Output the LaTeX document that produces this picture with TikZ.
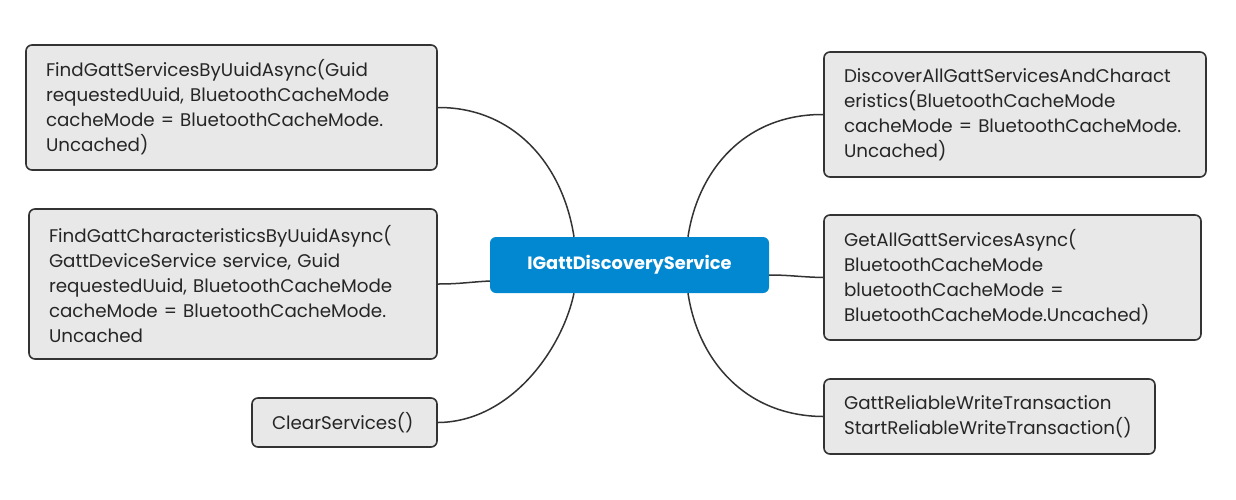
\documentclass[tikz,border=0pt]{standalone}
\usepackage{fontspec}
\setmainfont{Poppins}
\definecolor{boxfill}{RGB}{232,232,232}
\definecolor{boxline}{RGB}{51,51,51}
\definecolor{centerblue}{RGB}{2,136,209}
\definecolor{textdark}{RGB}{38,38,38}
\tikzset{
  leaf/.style={draw=boxline, fill=boxfill, line width=1.6pt, rounded corners=6pt,
    inner xsep=20pt, inner ysep=0pt, align=left, text=textdark,
    font={\fontsize{18.3}{25}\selectfont}},
  root/.style={fill=centerblue, rounded corners=6pt, text=white,
    font={\bfseries\fontsize{17.8}{20}\selectfont}, inner sep=0pt},
  link/.style={draw=boxline, line width=1.5pt}
}
\begin{document}
\begin{tikzpicture}[x=1pt,y=-1pt]
\useasboundingbox (0,0) rectangle (1236,499);
\fill[white] (0,0) rectangle (1236,499);

\node[root, minimum width=279pt, minimum height=56pt] (c) at (629.5,265) {IGattDiscoveryService};

\node[leaf, text width=371pt, minimum height=125pt] (l1) at (231.5,107.5)
  {\mbox{FindGattServicesByUuidAsync(Guid}\\\mbox{requestedUuid, BluetoothCacheMode}\\\mbox{cacheMode = BluetoothCacheMode.}\\Uncached)};
\node[leaf, text width=368pt, minimum height=150pt] (l2) at (233,284)
  {\mbox{FindGattCharacteristicsByUuidAsync(}\\\mbox{GattDeviceService service, Guid}\\\mbox{requestedUuid, BluetoothCacheMode}\\\mbox{cacheMode = BluetoothCacheMode.}\\Uncached};
\node[leaf, text width=145pt, minimum height=49pt] (l3) at (344.5,422.5)
  {ClearServices()};

\node[leaf, text width=342pt, minimum height=125pt] (r1) at (1015,114.5)
  {\mbox{DiscoverAllGattServicesAndCharact}\\\mbox{eristics(BluetoothCacheMode}\\\mbox{cacheMode = BluetoothCacheMode.}\\Uncached)};
\node[leaf, text width=337pt, minimum height=125pt] (r2) at (1012.5,277.5)
  {\mbox{GetAllGattServicesAsync(}\\\mbox{BluetoothCacheMode}\\\mbox{bluetoothCacheMode =}\\\mbox{BluetoothCacheMode.Uncached)}};
\node[leaf, text width=291pt, minimum height=75pt] (r3) at (989.5,416.5)
  {\mbox{GattReliableWriteTransaction}\\\mbox{StartReliableWriteTransaction()}};

\coordinate (ct1) at ([xshift=-55.5pt]c.north);
\coordinate (ct2) at ([xshift=58.5pt]c.north);
\coordinate (cb1) at ([xshift=-55.5pt]c.south);
\coordinate (cb2) at ([xshift=58.5pt]c.south);
\coordinate (cl) at ([yshift=-16pt]c.west);
\coordinate (cr) at ([yshift=-10pt]c.east);

\draw[link] (l1.east) .. controls (510,107) and (562,160) .. (ct1);
\draw[link] (l2.east) .. controls (460,284) and (470,282) .. (cl);
\draw[link] (l3.east) .. controls (510,422) and (562,350) .. (cb1);
\draw[link] (r1.west) .. controls (745,114) and (698,170) .. (ct2);
\draw[link] (r2.west) .. controls (800,277) and (790,275) .. (cr);
\draw[link] (r3.west) .. controls (745,416) and (698,360) .. (cb2);
\end{tikzpicture}
\end{document}
